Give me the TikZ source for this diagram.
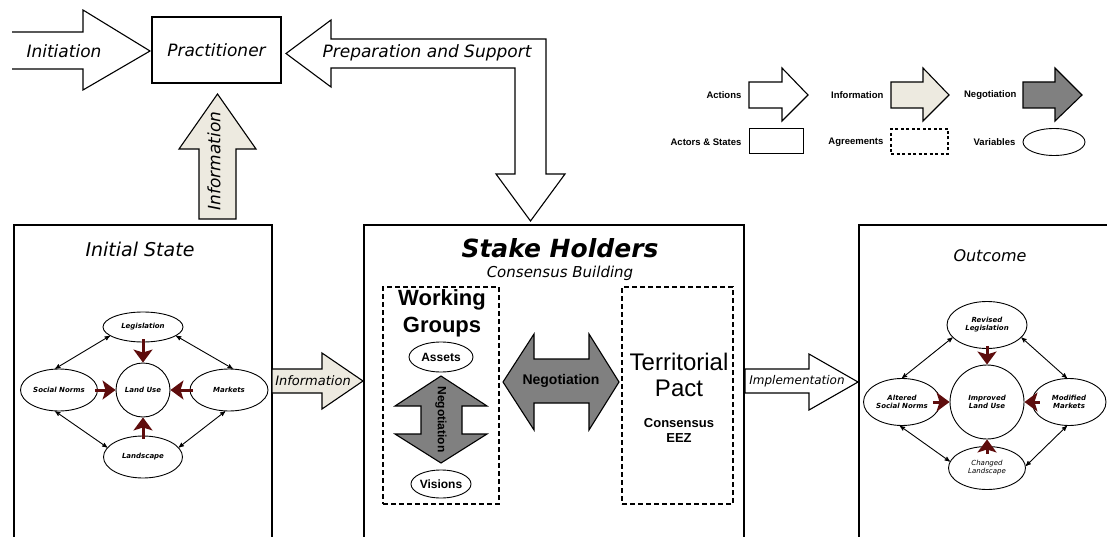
\documentclass[tikz,border=0pt]{standalone}
\usepackage{fontspec}
\setmainfont{DejaVu Sans}
\newfontfamily\arialfont{Liberation Sans}
\usetikzlibrary{arrows,arrows.meta,positioning,shapes.geometric,calc}
\definecolor{infofill}{HTML}{EDEAE0}
\definecolor{negofill}{HTML}{808080}
\definecolor{inflred}{HTML}{5E0C0C}

\begin{document}
\begin{tikzpicture}[x=1pt, y=-1pt, >=stealth', semithick]
	\tikzstyle{actor}=[draw=black, line width=1.2pt, rectangle]
	\tikzstyle{agree}=[draw=black, line width=1.3pt, dash pattern=on 5pt off 3pt, rectangle]
	\tikzstyle{var}=[draw=black, line width=0.9pt, ellipse, inner sep=0pt, align=center, font=\itshape\bfseries\fontsize{7}{8}\selectfont]
	\tikzstyle{action}=[draw=black, line width=1.1pt, fill=white, line join=miter]
	\tikzstyle{info}=[action, fill=infofill]
	\tikzstyle{nego}=[action, fill=negofill]
	\tikzstyle{hand}=[font=\itshape\fontsize{17}{20}\selectfont]
	\tikzstyle{plain}=[font=\arialfont\bfseries\fontsize{9.5}{11}\selectfont]
	\tikzstyle{pair}=[<->, line width=0.9pt]
	\tikzstyle{drive}=[-{Stealth[width=19pt,length=13pt,inset=3pt]}, line width=3pt, color=inflred]

	\useasboundingbox (0,0) rectangle (1107,537);
	\clip (0,0) rectangle (1107,537);

	% practitioner and the arrows round it
	\node[actor, hand, minimum width=129pt, minimum height=66pt] (prac) at (216.5,50) {Practitioner};
	\draw[action] (12,32) -- (83,32) -- (83,10) -- (150,51) -- (83,90) -- (83,69) -- (12,69);
	\node[hand] (initiation) at (64,51) {Initiation};
	\draw[action] (286,53.5) -- (331,20) -- (331,39) -- (546,39) -- (546,174) -- (565,174) -- (530.5,221)
		-- (496,174) -- (515,174) -- (515,68) -- (331,68) -- (331,87) -- cycle;
	\node[hand] (prepare) at (427,53) {Preparation and Support};
	\draw[info] (199,219) -- (199,149) -- (179,149) -- (217.5,94) -- (256,149) -- (236,149) -- (236,219) -- cycle;
	\node[hand, rotate=90] (infoup) at (214,161) {Information};

	% the three stages
	\node[actor, minimum width=258pt, minimum height=340pt] (init) at (143,395) {};
	\node[actor, minimum width=380pt, minimum height=340pt] (stake) at (554,395) {};
	\node[actor, minimum width=262pt, minimum height=340pt] (outc) at (990,395) {};
	\node[font=\itshape\fontsize{19}{22}\selectfont] (inittitle) at (140,249) {Initial State};
	\node[font=\bfseries\itshape\fontsize{25}{28}\selectfont] (staketitle) at (560,248) {Stake Holders};
	\node[font=\itshape\fontsize{15}{17}\selectfont] (stakesub) at (560,273) {Consensus Building};
	\node[font=\itshape\fontsize{16}{18}\selectfont] (outctitle) at (990,256) {Outcome};

	\draw[info] (272,369) -- (322,369) -- (322,353) -- (363,381) -- (322,409) -- (322,393) -- (272,393) -- cycle;
	\node[font=\itshape\fontsize{13}{15}\selectfont] (infomid) at (313,381) {Information};
	\draw[action] (745,369) -- (809,369) -- (809,354) -- (858,382) -- (809,410) -- (809,393) -- (745,393) -- cycle;
	\node[font=\itshape\fontsize{12}{14}\selectfont] (implement) at (797,381) {Implementation};

	% initial state variables
	\node[var, circle, minimum size=54pt] (lu) at (143,390) {Land Use};
	\node[var, minimum width=80pt, minimum height=30pt] (leg) [above of=lu, node distance=63pt] {Legislation};
	\node[var, minimum width=77pt, minimum height=42pt] (soc) [left of=lu, node distance=84pt] {Social Norms};
	\node[var, minimum width=78pt, minimum height=42pt] (mkt) [right of=lu, node distance=86pt] {Markets};
	\node[var, minimum width=79pt, minimum height=42pt] (lsc) [below of=lu, node distance=67pt] {Landscape};

	\path[pair]
	(leg.195) edge (soc.100)
	(leg.-15) edge (mkt.80)
	(soc.-100) edge (lsc.165)
	(mkt.-100) edge (lsc.15);
	\path[drive]
	([yshift=3pt]leg.south) edge (lu)
	([xshift=-3pt]soc.east) edge (lu)
	([xshift=3pt]mkt.west) edge (lu)
	([yshift=-3pt]lsc.north) edge (lu);

	% stake holders
	\node[agree, minimum width=116pt, minimum height=217pt] (wg) at (441,395.5) {};
	\node[agree, minimum width=111pt, minimum height=217pt] (tp) at (677.5,395.5) {};
	\node[font=\arialfont\bfseries\fontsize{22}{27}\selectfont, align=center] (wgtitle) at (442,313.5) {Working\\Groups};
	\node[var, font=\arialfont\bfseries\fontsize{12}{14}\selectfont, minimum width=64pt, minimum height=30pt] (assets) at (441,357) {Assets};
	\node[var, font=\arialfont\bfseries\fontsize{12}{14}\selectfont, minimum width=59pt, minimum height=28pt] (visions) at (441,484) {Visions};
	\draw[nego] (441,376) -- (487,406) -- (462,406) -- (462,434) -- (487,434) -- (441,463) -- (395,434)
		-- (421,434) -- (421,406) -- (395,406) -- cycle;
	\node[font=\arialfont\bfseries\fontsize{12}{14}\selectfont, rotate=-90] (negov) at (441,419.5) {Negotiation};
	\draw[nego] (503,382) -- (534,334) -- (534,359) -- (589,359) -- (589,334) -- (619,382) -- (589,430)
		-- (589,403) -- (534,403) -- (534,430) -- cycle;
	\node[font=\arialfont\bfseries\fontsize{14}{16}\selectfont] (negoh) at (561,381) {Negotiation};
	\node[font=\arialfont\fontsize{24}{26}\selectfont, align=center] (tptitle) at (679,374.5) {Territorial\\Pact};
	\node[font=\arialfont\bfseries\fontsize{13}{15}\selectfont, align=center] (tpsub) at (679,430.5) {Consensus\\EEZ};

	% outcome variables
	\node[var, circle, minimum size=74pt] (ilu) at (987,402) {Improved\\Land Use};
	\node[var, minimum width=80pt, minimum height=47pt] (rl) [above of=ilu, node distance=77pt] {Revised\\Legislation};
	\node[var, minimum width=77pt, minimum height=47pt] (asn) [left of=ilu, node distance=85pt] {Altered\\Social Norms};
	\node[var, minimum width=74pt, minimum height=47pt] (mm) [right of=ilu, node distance=82pt] {Modified\\Markets};
	\node[var, minimum width=77pt, minimum height=43pt, font=\itshape\fontsize{7}{8}\selectfont] (cl) [below of=ilu, node distance=66pt] {Changed\\Landscape};

	\path[pair]
	(rl.200) edge (asn.90)
	(rl.-20) edge (mm.95)
	(asn.-95) edge (cl.170)
	(mm.-95) edge (cl.3);
	\path[drive]
	([yshift=3pt]rl.south) edge (ilu)
	([xshift=-8pt]asn.east) edge (ilu)
	([xshift=8pt]mm.west) edge (ilu)
	([yshift=-8pt]cl.north) edge (ilu);

	% legend
	\node[plain, anchor=east] (lgacttext) at (745,95) {Actions};
	\draw[action] (749,82) -- (782,82) -- (782,68) -- (808,95) -- (782,121) -- (782,108) -- (749,108) -- cycle;
	\node[plain, anchor=east] (lginftext) at (887,95) {Information};
	\draw[info] (891,82) -- (923,82) -- (923,68) -- (949,95) -- (923,121) -- (923,108) -- (891,108) -- cycle;
	\node[plain, anchor=east] (lgnegtext) at (1020,95) {Negotiation};
	\draw[nego] (1023,82) -- (1055,82) -- (1055,68) -- (1082,95) -- (1055,121) -- (1055,108) -- (1023,108) -- cycle;
	\node[plain, anchor=east] (lgactortext) at (745,142) {Actors \& States};
	\node[actor, line width=1pt, minimum width=54pt, minimum height=25pt] (lgactor) at (776,141.5) {};
	\node[plain, anchor=east] (lgagrtext) at (887,142) {Agreements};
	\node[agree, line width=1.1pt, dash pattern=on 3pt off 2.5pt, minimum width=57pt, minimum height=25pt] (lgagr) at (919.5,141.5) {};
	\node[plain, anchor=east] (lgvartext) at (1019,142) {Variables};
	\node[var, minimum width=62pt, minimum height=27pt] (lgvar) at (1054,142) {};
\end{tikzpicture}
\end{document}
